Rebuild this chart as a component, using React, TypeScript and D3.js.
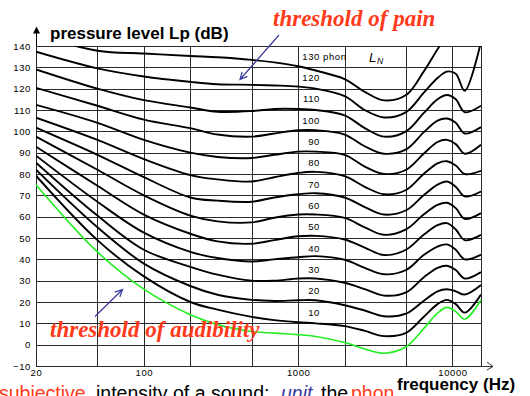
import React, { useEffect, useRef } from 'react';
import * as d3 from 'd3';

const freqs = [20, 50, 100, 200, 300, 500, 700, 1000, 1300, 2000, 2700, 3600, 5000, 6500, 8000, 9200, 10500, 12000, 15300];

// equal-loudness contours, sound pressure level in dB
const threshold = [75, 43.5, 26, 14, 9.4, 6.2, 5.4, 4.7, 3.8, 1, -2, -4, -1, 7.5, 14.8, 17.5, 15.5, 12, 21];
const phon10 = [79.2, 49, 32, 20, 16.4, 13, 11.5, 10.5, 10, 8.7, 6.5, 4, 5.5, 13, 19, 21, 19, 15, 23.5];
const phon20 = [82, 55, 38, 27.5, 23.4, 21, 20.5, 20.8, 20.8, 18.5, 16, 13.3, 14.5, 20.5, 25, 26, 25, 23.5, 28];
const phon30 = [85.3, 60.5, 44.5, 36.5, 32.8, 30, 30, 31, 31, 29, 26, 23, 24.5, 31.5, 36, 37, 35, 31, 34];
const phon40 = [88.6, 67, 52.5, 43.5, 40.6, 39, 40, 41, 41.5, 39.8, 36, 33, 35, 42, 46, 47, 44.5, 40, 42.2];
const phon50 = [92.8, 74.5, 61, 52, 48.4, 47.3, 49, 50.8, 51, 49.3, 45.5, 42, 44.5, 51.5, 56, 57, 54, 49, 51.5];
const phon60 = [97.5, 82, 70, 60.5, 57.8, 57.3, 59.5, 61, 61, 59.4, 55, 51.5, 54, 61, 65.5, 66.5, 64, 59, 61.7];
const phon70 = [101.7, 89, 78.5, 69, 67.5, 67, 69, 70.5, 71, 69, 64.5, 61, 63, 70, 75, 76.5, 74, 69.5, 71.8];
const phon80 = [106.4, 96, 87, 79.5, 77.5, 76.5, 78.5, 80.5, 81, 79, 74, 70.5, 72.5, 80, 85, 86, 84, 80, 81.5];
const phon90 = [112.4, 104, 96, 90, 88, 87.5, 89, 90.5, 90.5, 89, 83.5, 80, 82, 89.5, 95, 96, 94, 89.5, 93.7];
const phon100 = [120.4, 112, 105.5, 101.5, 98.5, 97.5, 99, 100.5, 100.5, 98.5, 93, 89.5, 91.5, 99.5, 105, 106, 104, 99, 102];
const phon110 = [129, 120, 114.6, 111.2, 109.2, 109.5, 110.5, 110.5, 110, 107.5, 101.5, 97.5, 100, 108.5, 115, 117, 115, 109, 112];
const phon120 = [137.3, 129.5, 125.7, 123.2, 122.1, 121.8, 121.5, 121, 120, 116.5, 110, 106.5, 109, 118, 125, 128, 127, 119, 142];
const phon130 = [145.5, 137.8, 136.5, 135.3, 134.7, 133.5, 132.3, 130.5, 128.5, 124.5, 118.5, 114.5, 117, 128, 138.5, 145, 150, 152, 155];

const contours = [phon10, phon20, phon30, phon40, phon50, phon60, phon70, phon80, phon90, phon100, phon110, phon120, phon130];
const phonLevels = [10, 20, 30, 40, 50, 60, 70, 80, 90, 100, 110, 120, 130];

const yTicks = [-10, 0, 10, 20, 30, 40, 50, 60, 70, 80, 90, 100, 110, 120, 130, 140];
const xTicks = [20, 100, 1000, 10000];
const gridFreqs = [20, 50, 100, 200, 500, 1000, 2000, 5000, 10000, 15300];

const RED = '#ff3a1a';
const BLUE = '#3a3aa0';
const SANS = 'Arial, "Liberation Sans", sans-serif';
const SERIF = '"Times New Roman", "Liberation Serif", serif';

const App = () => {
  const svgRef = useRef(null);

  useEffect(() => {
    const svg = d3.select(svgRef.current);
    svg.selectAll('*').remove();

    const x = d3.scaleLog().domain([20, 15300]).range([36, 481]);
    const y = d3.scaleLinear().domain([-10, 140]).range([366, 46]);

    const [x0, x1] = x.range();
    const [y0, y1] = y.range();

    svg.append('defs').append('clipPath').attr('id', 'plot')
      .append('rect').attr('x', x0).attr('y', y1).attr('width', x1 - x0).attr('height', y0 - y1);

    // grid
    const grid = svg.append('g').attr('stroke', '#2a2a2a').attr('stroke-width', 1).attr('shape-rendering', 'crispEdges');
    grid.selectAll('.h').data(yTicks).enter().append('line')
      .attr('x1', x0).attr('x2', x1)
      .attr('y1', d => Math.round(y(d)) + 0.5).attr('y2', d => Math.round(y(d)) + 0.5);
    grid.selectAll('.v').data(gridFreqs).enter().append('line')
      .attr('y1', y1).attr('y2', y0)
      .attr('x1', d => Math.round(x(d)) + 0.5).attr('x2', d => Math.round(x(d)) + 0.5);

    // axis arrows
    svg.append('line').attr('x1', x0 + 0.5).attr('x2', x0 + 0.5).attr('y1', y1).attr('y2', 31).attr('stroke', '#000');
    svg.append('path').attr('d', `M${x0 + 0.5},26.5 L${x0 - 3},33.5 L${x0 + 4},33.5 Z`).attr('fill', '#000');
    svg.append('line').attr('x1', x1).attr('x2', 493).attr('y1', Math.round(y0) + 0.5).attr('y2', Math.round(y0) + 0.5).attr('stroke', '#333');
    svg.append('path').attr('d', `M487,362 L493,${Math.round(y0) + 0.5} L487,370`).attr('fill', 'none').attr('stroke', '#333');

    // tick labels
    const yAxis = svg.append('g').attr('transform', `translate(${x0},0)`)
      .call(d3.axisLeft(y).tickValues(yTicks).tickSize(0).tickPadding(5));
    yAxis.select('.domain').remove();
    yAxis.selectAll('text').style('font-family', SANS).style('font-size', '9.5px').style('letter-spacing', '0.6px');

    const xAxis = svg.append('g').attr('transform', `translate(0,${y0})`)
      .call(d3.axisBottom(x).tickValues(xTicks).tickFormat(d3.format('d')).tickSize(0).tickPadding(3));
    xAxis.select('.domain').remove();
    xAxis.selectAll('text').style('font-family', SANS).style('font-size', '9.5px').style('letter-spacing', '0.6px');

    // contours
    const line = d3.line()
      .x((_, i) => x(freqs[i]))
      .y(d => y(d))
      .curve(d3.curveCatmullRom.alpha(0.5));

    const curves = svg.append('g').attr('clip-path', 'url(#plot)').attr('fill', 'none');
    curves.append('path').attr('d', line(threshold)).attr('stroke', '#22ee22').attr('stroke-width', 1.6);
    curves.selectAll('.contour').data(contours).enter().append('path')
      .attr('d', d => line(d)).attr('stroke', '#000').attr('stroke-width', 1.9);

    // phon labels
    const labels = svg.append('g').style('font-family', SANS).style('font-size', '9.5px').style('letter-spacing', '0.6px');
    labels.selectAll('text').data(phonLevels).enter().append('text')
      .attr('x', 320).attr('y', d => y(d + 5) + 3)
      .attr('text-anchor', 'end')
      .text(d => d);
    labels.append('text').attr('x', 323).attr('y', y(135) + 3).text('phon');
    svg.append('text').attr('x', 369).attr('y', 61.5).style('font-family', SANS).style('font-style', 'italic').style('font-size', '13px').text('L');
    svg.append('text').attr('x', 377).attr('y', 63.5).style('font-family', SANS).style('font-style', 'italic').style('font-size', '8.5px').text('N');

    // axis titles
    svg.append('text').attr('x', 50).attr('y', 38.5).style('font-family', SANS).style('font-weight', 'bold').style('font-size', '17px').text('pressure level Lp (dB)');
    svg.append('text').attr('x', 397).attr('y', 390).style('font-family', SANS).style('font-weight', 'bold').style('font-size', '17px').text('frequency (Hz)');

    // annotations
    const note = (tx, ty, text) => svg.append('text').attr('x', tx).attr('y', ty)
      .style('font-family', SERIF).style('font-style', 'italic').style('font-weight', 'bold').style('font-size', '23px')
      .attr('fill', RED).text(text);
    note(273, 26, 'threshold of pain');
    note(50, 337, 'threshold of audibility');

    const arrow = (ax, ay, bx, by) => {
      const a = Math.atan2(by - ay, bx - ax);
      const l = 8, s = 0.45;
      svg.append('path')
        .attr('d', `M${ax},${ay} L${bx},${by} M${bx - l * Math.cos(a - s)},${by - l * Math.sin(a - s)} L${bx},${by} L${bx - l * Math.cos(a + s)},${by - l * Math.sin(a + s)}`)
        .attr('fill', 'none').attr('stroke', BLUE).attr('stroke-width', 1.2);
    };
    arrow(279, 35, 240, 79.5);
    arrow(95, 316.5, 122.5, 289.5);

    // caption, cut by the bottom edge as in the original slide
    const cap = svg.append('g').style('font-family', SANS).style('font-size', '19.5px');
    cap.append('text').attr('x', -1).attr('y', 400).attr('fill', RED).text('subjective');
    cap.append('text').attr('x', 96).attr('y', 400).attr('fill', '#000').text('intensity of a sound:');
    cap.append('text').attr('x', 281).attr('y', 400).attr('fill', BLUE).style('font-style', 'italic').text('unit');
    cap.append('text').attr('x', 321).attr('y', 400).attr('fill', '#000').text('the');
    cap.append('text').attr('x', 351).attr('y', 400).attr('fill', RED).text('phon');
  }, []);

  return (
    <svg ref={svgRef} width={530} height={396}
      style={{ position: 'absolute', left: 0, top: 0, background: '#fff', overflow: 'hidden' }} />
  );
};

export default App;
